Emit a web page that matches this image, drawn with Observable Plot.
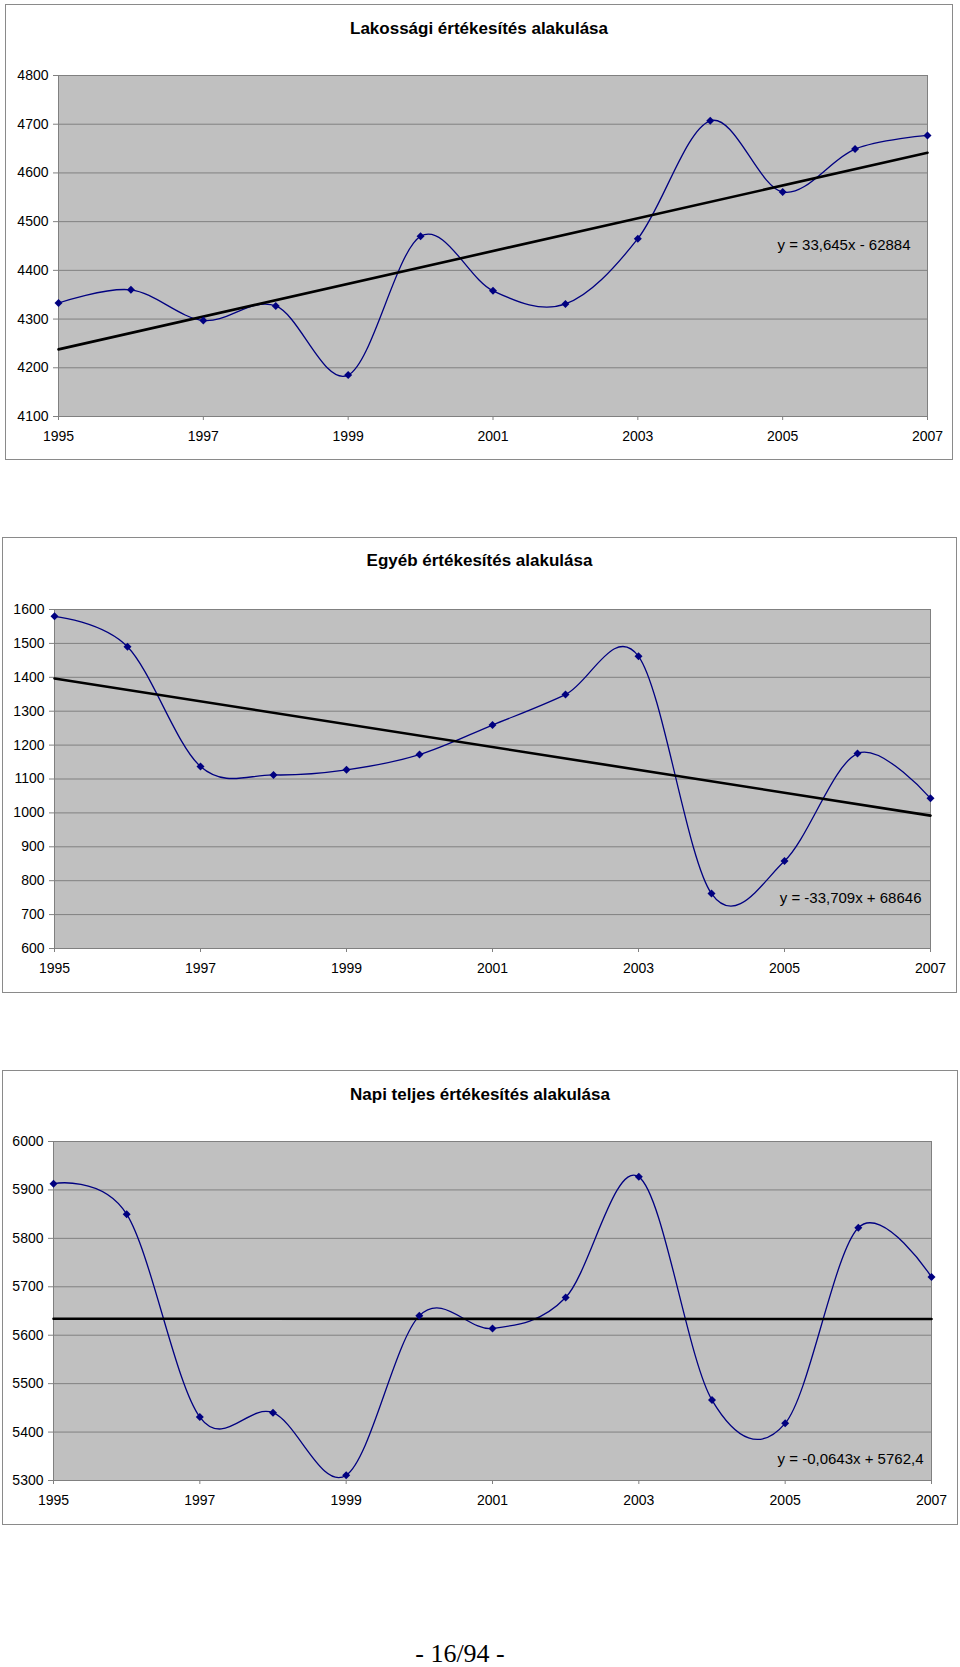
<!DOCTYPE html>
<html>
<head>
<meta charset="utf-8">
<script src="https://cdn.jsdelivr.net/npm/d3@7"></script>
<script src="https://cdn.jsdelivr.net/npm/@observablehq/plot@0.6"></script>
<style>
  html, body { margin: 0; padding: 0; background: #fff; }
  #page { position: relative; width: 960px; height: 1667px; overflow: hidden; font-family: "Liberation Sans", Arial, sans-serif; }
  .frame { position: absolute; border: 1px solid #8a8a8a; box-sizing: border-box; }
  .title { position: absolute; text-align: center; font-weight: bold; font-size: 17px; line-height: 20px; color: #000; white-space: nowrap; }
  .chart { position: absolute; }
  #pagenum { position: absolute; left: 0; width: 920px; text-align: center; font-family: "Liberation Serif", "Times New Roman", serif; font-size: 26px; line-height: 20px; color: #000; }
</style>
</head>
<body>
<div id="page"></div>
<script>
// ---- Data ----
const years = [1995, 1996, 1997, 1998, 1999, 2000, 2001, 2002, 2003, 2004, 2005, 2006, 2007];
const lakossagi = [4333, 4360, 4297, 4327, 4185, 4470, 4358, 4331, 4465, 4707, 4561, 4649, 4677];
const egyeb     = [1580, 1490, 1137, 1112, 1127, 1172, 1259, 1349, 1462, 762, 858, 1175, 1043];
const napi      = [5913, 5850, 5431, 5440, 5311, 5640, 5614, 5678, 5927, 5466, 5418, 5822, 5720];

const xTickLabels = [1995, 1997, 1999, 2001, 2003, 2005, 2007];
const yTicks1 = [4100, 4200, 4300, 4400, 4500, 4600, 4700, 4800];
const yTicks2 = [600, 700, 800, 900, 1000, 1100, 1200, 1300, 1400, 1500, 1600];
const yTicks3 = [5300, 5400, 5500, 5600, 5700, 5800, 5900, 6000];

const titles = ["Lakossági értékesítés alakulása", "Egyéb értékesítés alakulása", "Napi teljes értékesítés alakulása"];
const equations = ["y = 33,645x - 62884", "y = -33,709x + 68646", "y = -0,0643x + 5762,4"];
const trendSlopes = [33.645, -33.709, -0.0643];
const trendIntercepts = [-62884, 68646, 5762.4];
const pageLabel = "- 16/94 -";

// ---- Layout (page pixel coordinates) ----
const layouts = [
  { frame: [5, 4, 953, 460],     plot: [58, 75, 927, 416],   titleY: 15, eq: { anchor: "top-right", dx: -17, dy: 170 } },
  { frame: [2, 537, 957, 993],   plot: [54, 609, 930, 948],  titleY: 14, eq: { anchor: "bottom-right", dx: -9, dy: -50 } },
  { frame: [2, 1070, 958, 1525], plot: [53, 1141, 931, 1480], titleY: 15, eq: { anchor: "bottom-right", dx: -8, dy: -21 } }
];

const seriesList = [lakossagi, egyeb, napi];
const tickList = [yTicks1, yTicks2, yTicks3];

const page = document.getElementById("page");

seriesList.forEach((values, i) => {
  const L = layouts[i];
  const [fx0, fy0, fx1, fy1] = L.frame;
  const [px0, py0, px1, py1] = L.plot;

  const frame = document.createElement("div");
  frame.className = "frame";
  frame.style.left = fx0 + "px";
  frame.style.top = fy0 + "px";
  frame.style.width = (fx1 - fx0) + "px";
  frame.style.height = (fy1 - fy0) + "px";
  page.appendChild(frame);

  const title = document.createElement("div");
  title.className = "title";
  title.textContent = titles[i];
  title.style.left = fx0 + "px";
  title.style.width = (fx1 - fx0) + "px";
  title.style.top = (fy0 + L.titleY) + "px";
  page.appendChild(title);

  const data = years.map((y, k) => ({ year: y, value: values[k] }));
  const trend = [years[0], years[years.length - 1]].map(y => ({ year: y, value: trendSlopes[i] * y + trendIntercepts[i] }));
  const ticks = tickList[i];

  const W = fx1 - fx0, H = fy1 - fy0;
  const chart = Plot.plot({
    width: W,
    height: H,
    marginLeft: px0 - fx0,
    marginRight: fx1 - px1,
    marginTop: py0 - fy0,
    marginBottom: fy1 - py1,
    style: { fontFamily: "'Liberation Sans', Arial, sans-serif", fontSize: "14px", background: "transparent", color: "#000", overflow: "visible" },
    x: { domain: [years[0], years[years.length - 1]], label: null },
    y: { domain: [ticks[0], ticks[ticks.length - 1]], label: null },
    marks: [
      Plot.frame({ fill: "#c0c0c0" }),
      Plot.gridY(ticks, { stroke: "#808080", strokeOpacity: 1, strokeWidth: 1 }),
      Plot.frame({ stroke: "#808080" }),
      Plot.axisY(ticks, { label: null, tickSize: 5, tickPadding: 5, tickFormat: d => String(d), stroke: "#808080", fill: "#000", fontSize: 14 }),
      Plot.axisX(xTickLabels, { label: null, tickSize: 4, tickPadding: 11, tickFormat: d => String(d), stroke: "#808080", fill: "#000", fontSize: 14 }),
      Plot.line(data, { x: "year", y: "value", curve: "catmull-rom", tension: 0, stroke: "#000080", strokeWidth: 1.3 }),
      Plot.line(trend, { x: "year", y: "value", stroke: "#000", strokeWidth: 2.6 }),
      Plot.dot(data, { x: "year", y: "value", symbol: "diamond2", r: 3.6, fill: "#000080", stroke: "none" }),
      Plot.text([equations[i]], { frameAnchor: L.eq.anchor, dx: L.eq.dx, dy: L.eq.dy, textAnchor: "end", lineAnchor: "middle", fontSize: 15, fill: "#000" })
    ]
  });
  chart.classList.add("chart");
  chart.style.left = fx0 + "px";
  chart.style.top = fy0 + "px";
  page.appendChild(chart);
});

const pn = document.createElement("div");
pn.id = "pagenum";
pn.textContent = pageLabel;
pn.style.top = "1644px";
page.appendChild(pn);
</script>
</body>
</html>
